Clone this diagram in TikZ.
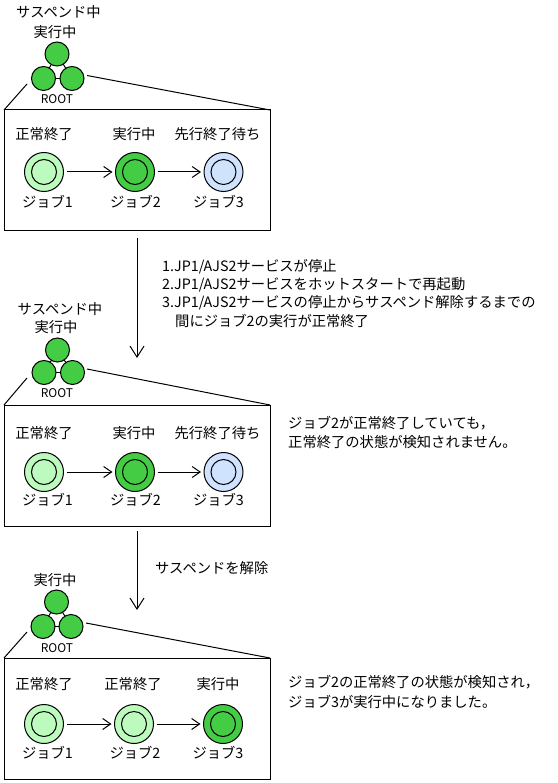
\documentclass[tikz,border=0pt]{standalone}
\usepackage{fontspec}
\setmainfont{Noto Sans CJK JP}
\usetikzlibrary{arrows.meta}
\definecolor{okgreen}{HTML}{BDFABD}
\definecolor{rungreen}{HTML}{44CC44}
\definecolor{waitblue}{HTML}{CFE3FF}
\tikzset{
  lbl/.style={font=\fontsize{14.3}{16}\selectfont, inner sep=0pt},
  rootlbl/.style={font=\fontsize{12}{13}\selectfont, inner sep=0pt},
  rootc/.style={circle, draw, line width=1pt, fill=rungreen, minimum size=24pt, inner sep=0pt, outer sep=0pt},
  jobc/.style={circle, draw, line width=1pt, minimum size=39pt, inner sep=0pt, outer sep=0pt,
    path picture={\draw[line width=1pt] (path picture bounding box.center) circle[radius=12.5pt];}},
  panel/.style={draw, line width=1pt, minimum width=266pt, minimum height=121pt, inner sep=0pt, outer sep=0pt, anchor=north west},
  flow/.style={line width=1pt, -{Straight Barb[length=8pt,width=11pt]}, shorten <=3pt, shorten >=3pt},
  down/.style={line width=1pt, -{Straight Barb[length=11pt,width=14pt]}},
  zoomline/.style={line width=1pt},
}
\begin{document}
\begin{tikzpicture}[x=1pt,y=-1pt]
\useasboundingbox (0,0) rectangle (557,783);

% ---------------- Panel 1 ----------------
\node[lbl] (p1sus) at (58.5,12.5) {サスペンド中};
\node[lbl] (p1run) at (55,32.5) {実行中};
\node[rootc] (p1t) at (57,54) {};
\node[rootc] (p1l) at (43.5,78.5) {};
\node[rootc] (p1r) at (72,78.5) {};
\draw[zoomline] (p1t) -- (p1l);
\draw[zoomline] (p1t) -- (p1r);
\draw[zoomline] (p1l) -- (p1r);
\node[rootlbl] (p1root) at (57,99.5) {ROOT};
\node[panel] (p1box) at (4,110) {};
\coordinate (p1la) at (27,84);
\coordinate (p1ra) at (87,75.5);
\draw[zoomline] (p1la) -- (p1box.north west);
\draw[zoomline] (p1ra) -- (p1box.north east);
\node[lbl] (p1s1) at (44,134) {正常終了};
\node[lbl] (p1s2) at (134,134) {実行中};
\node[lbl] (p1s3) at (217.5,134) {先行終了待ち};
\node[jobc, fill=okgreen] (p1j1) at (44,172) {};
\node[jobc, fill=rungreen] (p1j2) at (135,172) {};
\node[jobc, fill=waitblue] (p1j3) at (223.5,172) {};
\draw[flow] (p1j1) -- (p1j2);
\draw[flow] (p1j2) -- (p1j3);
\node[lbl] (p1n1) at (47.5,202) {ジョブ1};
\node[lbl] (p1n2) at (135.5,202) {ジョブ2};
\node[lbl] (p1n3) at (218.5,202) {ジョブ3};

% ---------------- Arrow 1 ----------------
\coordinate (a1s) at (137,238);
\coordinate (a1e) at (137,358);
\draw[down] (a1s) -- (a1e);
\node[lbl, anchor=west] (st1) at (162,267) {1.JP1/AJS2サービスが停止};
\node[lbl, anchor=west] (st2) at (162,285) {2.JP1/AJS2サービスをホットスタートで再起動};
\node[lbl, anchor=west] (st3) at (162,302.5) {3.JP1/AJS2サービスの停止からサスペンド解除するまでの};
\node[lbl, anchor=west] (st4) at (175,320.5) {間にジョブ2の実行が正常終了};

% ---------------- Panel 2 ----------------
\node[lbl] (p2sus) at (60,309) {サスペンド中};
\node[lbl] (p2run) at (56,327.5) {実行中};
\node[rootc] (p2t) at (57.5,350) {};
\node[rootc] (p2l) at (44,372.5) {};
\node[rootc] (p2r) at (72.5,372.5) {};
\draw[zoomline] (p2t) -- (p2l);
\draw[zoomline] (p2t) -- (p2r);
\draw[zoomline] (p2l) -- (p2r);
\node[rootlbl] (p2root) at (57,393) {ROOT};
\node[panel] (p2box) at (4,405) {};
\coordinate (p2la) at (27,378);
\coordinate (p2ra) at (87,369);
\draw[zoomline] (p2la) -- (p2box.north west);
\draw[zoomline] (p2ra) -- (p2box.north east);
\node[lbl] (p2s1) at (44,433) {正常終了};
\node[lbl] (p2s2) at (134,433) {実行中};
\node[lbl] (p2s3) at (217.5,433) {先行終了待ち};
\node[jobc, fill=okgreen] (p2j1) at (44,472) {};
\node[jobc, fill=rungreen] (p2j2) at (135,472) {};
\node[jobc, fill=waitblue] (p2j3) at (223.5,472) {};
\draw[flow] (p2j1) -- (p2j2);
\draw[flow] (p2j2) -- (p2j3);
\node[lbl] (p2n1) at (47.5,500) {ジョブ1};
\node[lbl] (p2n2) at (135.5,500) {ジョブ2};
\node[lbl] (p2n3) at (218.5,500) {ジョブ3};
\node[lbl, anchor=west] (p2c1) at (288,423) {ジョブ2が正常終了していても，};
\node[lbl, anchor=west] (p2c2) at (288,442) {正常終了の状態が検知されません。};

% ---------------- Arrow 2 ----------------
\coordinate (a2s) at (137,531);
\coordinate (a2e) at (137,610);
\draw[down] (a2s) -- (a2e);
\node[lbl, anchor=west] (rel) at (155,568.5) {サスペンドを解除};

% ---------------- Panel 3 ----------------
\node[lbl] (p3run) at (55,580) {実行中};
\node[rootc] (p3t) at (56.5,602) {};
\node[rootc] (p3l) at (43,626.5) {};
\node[rootc] (p3r) at (71,626.5) {};
\draw[zoomline] (p3t) -- (p3l);
\draw[zoomline] (p3t) -- (p3r);
\draw[zoomline] (p3l) -- (p3r);
\node[rootlbl] (p3root) at (57,648) {ROOT};
\node[panel] (p3box) at (4,658) {};
\coordinate (p3la) at (27,632);
\coordinate (p3ra) at (86,623);
\draw[zoomline] (p3la) -- (p3box.north west);
\draw[zoomline] (p3ra) -- (p3box.north east);
\node[lbl] (p3s1) at (44,684) {正常終了};
\node[lbl] (p3s2) at (133,684) {正常終了};
\node[lbl] (p3s3) at (218,684) {実行中};
\node[jobc, fill=okgreen] (p3j1) at (44,724) {};
\node[jobc, fill=okgreen] (p3j2) at (134,724) {};
\node[jobc, fill=rungreen] (p3j3) at (223,724) {};
\draw[flow] (p3j1) -- (p3j2);
\draw[flow] (p3j2) -- (p3j3);
\node[lbl] (p3n1) at (47.5,752.5) {ジョブ1};
\node[lbl] (p3n2) at (135,752.5) {ジョブ2};
\node[lbl] (p3n3) at (218,752.5) {ジョブ3};
\node[lbl, anchor=west] (p3c1) at (288,682) {ジョブ2の正常終了の状態が検知され，};
\node[lbl, anchor=west] (p3c2) at (288,702) {ジョブ3が実行中になりました。};
\end{tikzpicture}
\end{document}
